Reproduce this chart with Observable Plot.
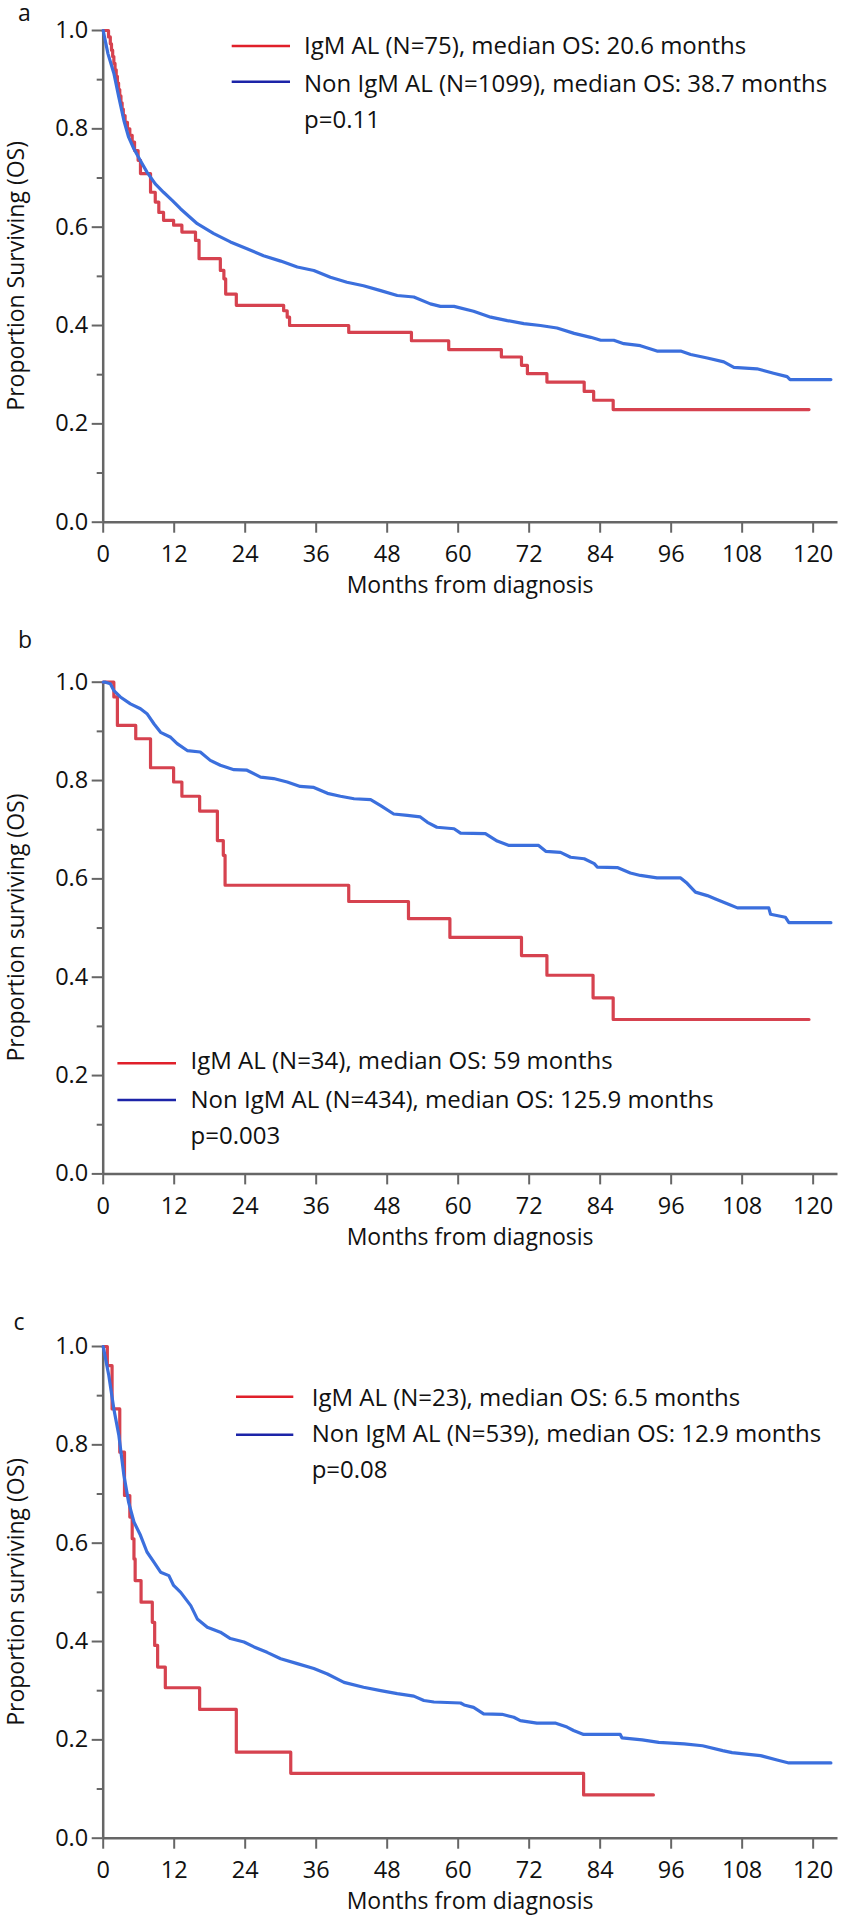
<!DOCTYPE html>
<html><head><meta charset="utf-8">
<script src="https://cdn.jsdelivr.net/npm/d3@7"></script>
<script src="https://cdn.jsdelivr.net/npm/@observablehq/plot@0.6"></script>
<style>
html,body{margin:0;padding:0;background:#fff;}
#wrap{position:relative;width:844px;height:1918px;overflow:hidden;background:#fff;}
.panel{position:absolute;left:0;}
</style></head><body><div id="wrap"></div>
<script>
// ---------- data ----------
const xTicks = [0, 12, 24, 36, 48, 60, 72, 84, 96, 108, 120];
const yTicks = [0, 0.2, 0.4, 0.6, 0.8, 1.0];
const yMinorTicks = [0.1, 0.3, 0.5, 0.7, 0.9];
const panelLetters = ["a", "b", "c"];
const yTitles = ["Proportion Surviving (OS)", "Proportion surviving (OS)", "Proportion surviving (OS)"];
const xTitle = "Months from diagnosis";
const legendRed = ["IgM AL (N=75), median OS: 20.6 months", "IgM AL (N=34), median OS: 59 months", "IgM AL (N=23), median OS: 6.5 months"];
const legendBlue = ["Non IgM AL (N=1099), median OS: 38.7 months", "Non IgM AL (N=434), median OS: 125.9 months", "Non IgM AL (N=539), median OS: 12.9 months"];
const pValues = ["p=0.11", "p=0.003", "p=0.08"];

// Panel a
const aRedMonths = [0, 0.9, 1.2, 1.4, 1.6, 1.8, 2.0, 2.2, 2.4, 2.6, 2.8, 3.0, 3.2, 3.4, 3.7, 4.1, 4.5, 4.9, 5.3, 5.9, 6.3, 8.0, 8.8, 9.4, 10.2, 11.9, 13.3, 15.6, 16.2, 19.8, 20.4, 20.7, 22.5, 30.5, 31.1, 31.5, 41.5, 52.1, 58.4, 67.3, 70.7, 71.7, 75.0, 81.3, 82.9, 86.2, 119.3];
const aRedSurv = [1, 0.987, 0.973, 0.96, 0.947, 0.933, 0.92, 0.907, 0.893, 0.88, 0.867, 0.853, 0.84, 0.827, 0.813, 0.80, 0.787, 0.773, 0.756, 0.736, 0.709, 0.671, 0.651, 0.630, 0.614, 0.604, 0.590, 0.573, 0.536, 0.512, 0.495, 0.464, 0.441, 0.430, 0.417, 0.400, 0.386, 0.369, 0.351, 0.336, 0.319, 0.302, 0.285, 0.266, 0.248, 0.229, 0.229];
const aBlueMonths = [0, 0.8, 1.8, 2.65, 3.5, 4.3, 5.2, 6.3, 7.4, 8.8, 10.2, 11.7, 13.1, 15.9, 18.7, 21.5, 24.3, 27.1, 30.0, 32.8, 35.6, 38.4, 41.2, 44.0, 46.9, 49.7, 52.5, 55.3, 57.0, 59.3, 62.6, 65.5, 68.3, 71.1, 73.9, 76.7, 79.6, 82.4, 84.1, 86.3, 88.0, 90.8, 93.6, 97.6, 99.3, 102.1, 104.9, 106.6, 110.5, 113.3, 115.6, 116.1, 123.0];
const aBlueSurv = [1, 0.953, 0.913, 0.864, 0.817, 0.783, 0.759, 0.735, 0.712, 0.688, 0.671, 0.654, 0.637, 0.607, 0.587, 0.570, 0.556, 0.542, 0.531, 0.519, 0.512, 0.498, 0.488, 0.481, 0.471, 0.461, 0.458, 0.444, 0.439, 0.439, 0.429, 0.417, 0.410, 0.404, 0.400, 0.395, 0.384, 0.376, 0.370, 0.370, 0.363, 0.359, 0.348, 0.348, 0.341, 0.334, 0.326, 0.315, 0.312, 0.303, 0.296, 0.290, 0.290];

// Panel b
const bRedMonths = [0, 1.8, 2.4, 5.5, 8.0, 11.9, 13.3, 16.3, 19.3, 20.3, 20.6, 41.5, 51.6, 58.6, 70.7, 75.0, 82.8, 86.2, 119.3];
const bRedSurv = [1, 0.970, 0.912, 0.885, 0.826, 0.797, 0.768, 0.738, 0.678, 0.648, 0.587, 0.554, 0.519, 0.481, 0.444, 0.404, 0.358, 0.314, 0.314];
const bBlueMonths = [0, 0.4, 1.2, 1.8, 2.9, 4.6, 6.3, 7.4, 8.6, 9.7, 11.4, 12.5, 14.2, 16.4, 18.1, 19.8, 22.1, 24.3, 26.6, 28.8, 31.1, 33.3, 35.6, 37.9, 40.1, 42.4, 45.2, 46.9, 49.1, 51.4, 53.6, 54.8, 56.4, 59.3, 60.4, 64.6, 66.6, 68.6, 73.6, 74.8, 77.3, 79.0, 81.3, 83.0, 83.5, 86.9, 89.1, 90.8, 93.6, 97.6, 98.7, 100.1, 102.1, 103.5, 105.8, 107.2, 112.5, 112.8, 115.3, 115.9, 123.0];
const bBlueSurv = [1, 1.0, 0.997, 0.983, 0.970, 0.956, 0.946, 0.936, 0.915, 0.898, 0.888, 0.875, 0.861, 0.858, 0.841, 0.831, 0.822, 0.821, 0.807, 0.804, 0.797, 0.788, 0.786, 0.774, 0.768, 0.763, 0.761, 0.749, 0.732, 0.729, 0.726, 0.715, 0.705, 0.702, 0.693, 0.692, 0.677, 0.668, 0.668, 0.656, 0.654, 0.644, 0.641, 0.631, 0.624, 0.623, 0.612, 0.607, 0.602, 0.602, 0.591, 0.573, 0.566, 0.559, 0.548, 0.541, 0.541, 0.528, 0.522, 0.511, 0.511];

// Panel c
const cRedMonths = [0, 0.7, 1.5, 2.8, 3.6, 4.5, 4.9, 5.2, 5.4, 6.4, 8.3, 8.7, 9.2, 10.5, 16.3, 22.5, 31.7, 81.2, 93.0];
const cRedSurv = [1, 0.961, 0.873, 0.785, 0.697, 0.653, 0.609, 0.568, 0.524, 0.480, 0.439, 0.392, 0.348, 0.306, 0.262, 0.175, 0.132, 0.088, 0.088];
const cBlueMonths = [0, 0.95, 1.8, 2.65, 3.5, 4.3, 5.2, 6.3, 7.4, 8.6, 9.7, 11.1, 11.9, 13.1, 14.8, 15.9, 17.6, 19.8, 21.5, 23.8, 25.5, 27.7, 30.0, 32.8, 35.6, 37.9, 40.7, 44.0, 46.9, 49.7, 52.5, 54.2, 55.9, 60.4, 61.0, 62.6, 64.3, 67.4, 69.4, 70.5, 73.3, 76.5, 78.4, 79.5, 81.2, 87.4, 87.7, 91.1, 93.9, 98.2, 101.3, 104.7, 106.3, 111.1, 113.9, 115.9, 123.0];
const cBlueSurv = [1, 0.941, 0.873, 0.819, 0.738, 0.683, 0.643, 0.616, 0.582, 0.561, 0.541, 0.534, 0.514, 0.500, 0.473, 0.446, 0.429, 0.419, 0.406, 0.399, 0.389, 0.378, 0.365, 0.355, 0.345, 0.334, 0.317, 0.307, 0.300, 0.294, 0.289, 0.280, 0.277, 0.275, 0.271, 0.266, 0.253, 0.252, 0.246, 0.239, 0.234, 0.234, 0.226, 0.219, 0.211, 0.211, 0.204, 0.200, 0.195, 0.192, 0.188, 0.178, 0.174, 0.168, 0.159, 0.153, 0.153];

// ---------- layout / style ----------
const FONT = "'Open Sans', Lato, sans-serif";
const FS = 23, FS_TICK = 23.5, FS_LEG = 24;
const RED = "#d6424f", BLUE = "#3b6fdd";
const LEG_RED = "#e0202a", LEG_BLUE = "#1c24a8";
const AXIS = "#666666";
const ML = 102.7, MR = 6.5, PH = 491.7, W = 844;

const layout = [
  {top: 0,    height: 610, mt: 30,   label: [18, 21], leg: {x1: 231.7, x2: 290, tx: 304, lineY: [46, 81.7], base: [54.3, 91.7, 128.3]}},
  {top: 610,  height: 650, mt: 71.7, label: [18, 38.3], leg: {x1: 117.4, x2: 176, tx: 190.5, lineY: [453.3, 490], base: [459.3, 497.7, 534]}},
  {top: 1260, height: 658, mt: 86,   label: [13.5, 70], leg: {x1: 236, x2: 293.3, tx: 311.7, lineY: [136.7, 174.7], base: [145.7, 181.7, 217.7]}}
];
const series = [
  [aRedMonths, aRedSurv, aBlueMonths, aBlueSurv],
  [bRedMonths, bRedSurv, bBlueMonths, bBlueSurv],
  [cRedMonths, cRedSurv, cBlueMonths, cBlueSurv]
];

const wrap = document.getElementById("wrap");

layout.forEach((L, i) => {
  const [rm, rs, bm, bs] = series[i];
  const red = rm.map((m, k) => ({month: m, surv: rs[k]}));
  const blue = bm.map((m, k) => ({month: m, surv: bs[k]}));
  const mb = L.height - L.mt - PH;
  const svgNode = Plot.plot({
    width: W, height: L.height,
    marginLeft: ML, marginRight: MR, marginTop: L.mt, marginBottom: mb,
    x: {domain: [0, 124.2]},
    y: {domain: [0, 1]},
    style: {fontFamily: FONT, fontSize: FS + "px", color: "#111", background: "#fff", overflow: "visible"},
    marks: [
      Plot.axisY(yMinorTicks, {tickSize: 6, text: null, stroke: AXIS, strokeWidth: 2, label: null}),
      Plot.axisY(yTicks, {tickSize: 11, tickPadding: 4, tickFormat: d3.format(".1f"), stroke: AXIS, strokeWidth: 2, fontSize: FS_TICK, label: null}),
      Plot.axisX(xTicks, {tickSize: 11, tickPadding: 12, tickFormat: d3.format("d"), stroke: AXIS, strokeWidth: 2, fontSize: FS_TICK, label: null}),
      Plot.ruleX([0], {stroke: AXIS, strokeWidth: 2.5}),
      Plot.ruleY([0], {stroke: AXIS, strokeWidth: 2.5}),
      Plot.line(red, {x: "month", y: "surv", curve: "step-after", stroke: RED, strokeWidth: 3.2}),
      Plot.line(blue, {x: "month", y: "surv", stroke: BLUE, strokeWidth: 3.2})
    ]
  });
  const s = d3.select(svgNode);
  const g = s.append("g").attr("font-family", FONT).attr("font-size", FS).attr("fill", "#111").attr("text-anchor", "start");
  // axis titles
  g.append("text").attr("x", ML + (W - MR - ML) / 2).attr("y", L.mt + PH + 71.5)
    .attr("text-anchor", "middle").text(xTitle);
  g.append("text").attr("transform", `translate(16,${L.mt + PH / 2}) rotate(-90)`)
    .attr("text-anchor", "middle").attr("dy", "0.35em").text(yTitles[i]);
  // panel letter
  g.append("text").attr("x", L.label[0]).attr("y", L.label[1]).attr("text-anchor", "start").text(panelLetters[i]);
  // legend
  const lg = L.leg;
  g.append("line").attr("x1", lg.x1).attr("x2", lg.x2).attr("y1", lg.lineY[0]).attr("y2", lg.lineY[0])
    .attr("stroke", LEG_RED).attr("stroke-width", 2.5);
  g.append("line").attr("x1", lg.x1).attr("x2", lg.x2).attr("y1", lg.lineY[1]).attr("y2", lg.lineY[1])
    .attr("stroke", LEG_BLUE).attr("stroke-width", 2.5);
  [legendRed[i], legendBlue[i], pValues[i]].forEach((t, k) => {
    g.append("text").attr("x", lg.tx).attr("y", lg.base[k]).attr("font-size", FS_LEG).attr("text-anchor", "start").text(t);
  });

  const div = document.createElement("div");
  div.className = "panel";
  div.style.top = L.top + "px";
  div.appendChild(svgNode);
  wrap.appendChild(div);
});
</script></body></html>
